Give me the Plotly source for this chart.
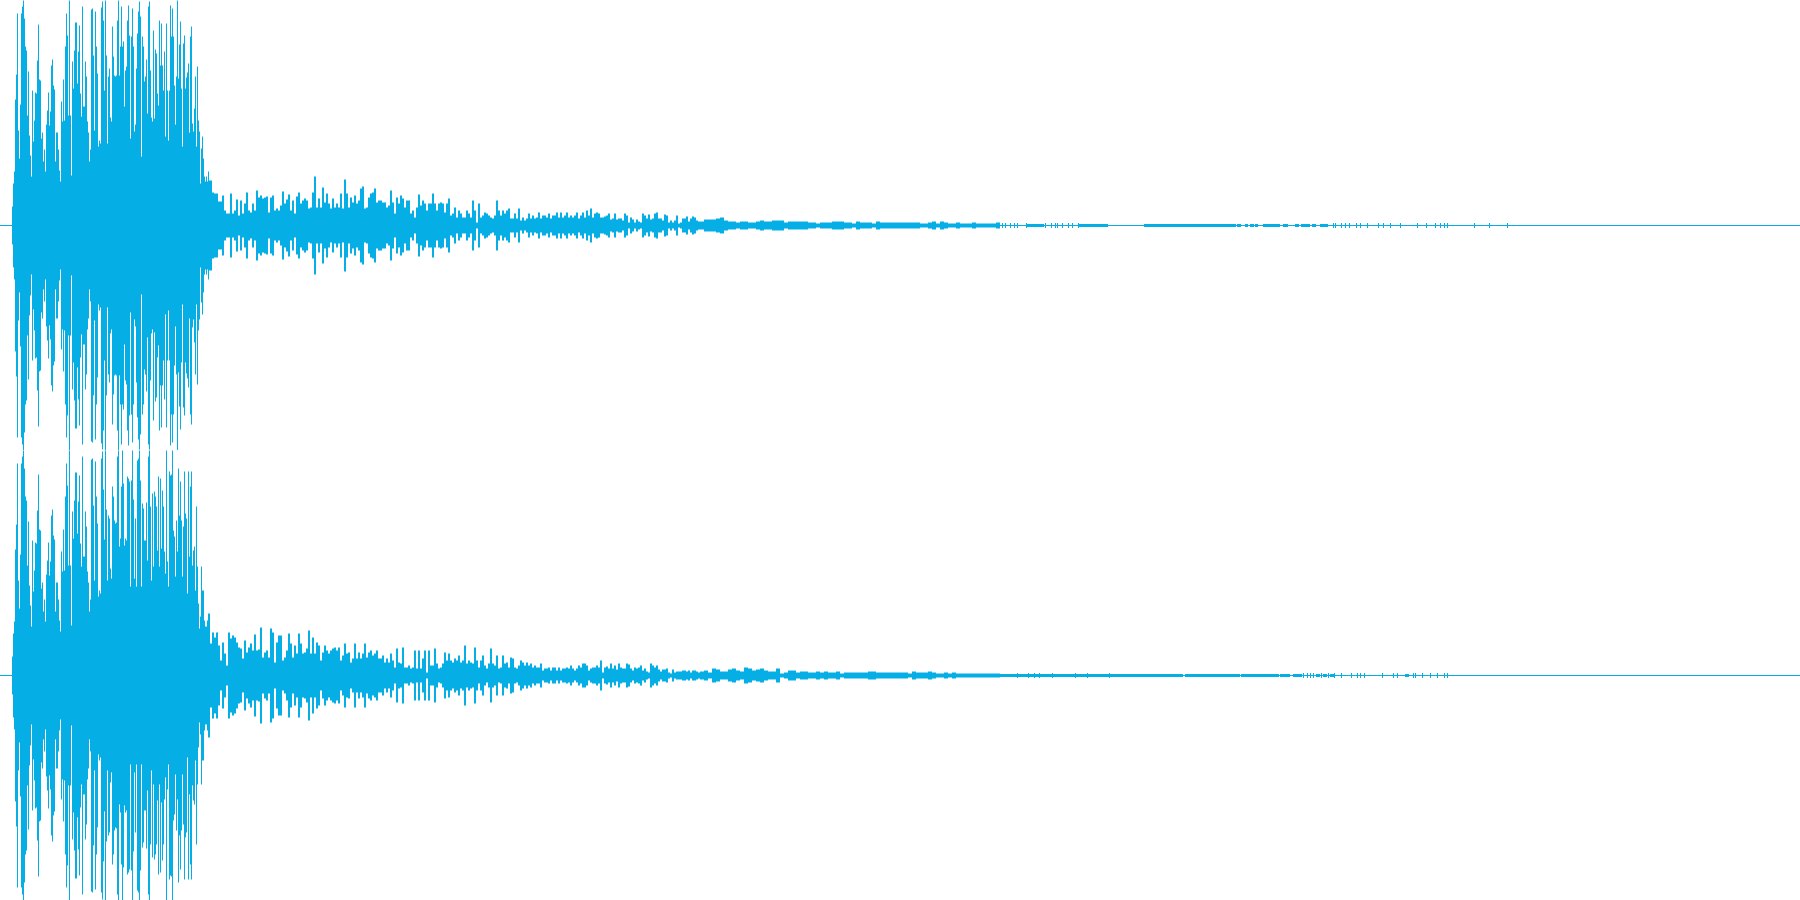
import plotly.graph_objects as go

WAVE = "#06AEE6"

# Amplitudes (full scale = 225). First columns are shared by both channels.
attack_cols_start = 12
attack = [19,42,54,126,151,212,95,67,121,212,219,225,207,179,175,110,154,90,70,49,135,84,105,133,132,165,201,146,145,87,93,64,76,54,101,115,133,100,114,160,166,140,136,64,93,93,76,55,44,124,104,146,105,179,212,190,110,225,110,50,164,137,175,203,203,142,174,200,132,109,219,119,119,164,149,104,93,64,76,216,217,170,95,214,179,152,79,85]

ch1_body = [82,218,224,205,135,225,170,82,149,157,108,104,199,169,150,149,150,205,225,150,179,219,179,184,119,155,159,205,220,190,87,189,217,179,94,101,157,192,214,224,209,69,189,179,144,149,166,112,219,224,155,108,104,195,107,176,172,132,120,205,160,202,160,135,174,89,202,135,85,135,220,189,217,189,140,101,149,225,147,181,204,137,79,182,190,137,148,153,162,93,189,199,102,94,117,149,79,159,105,94,42,77,89,67,49,44,49,44,54,45]

ch2_body = [82,217,224,186,136,225,166,95,160,157,107,97,189,179,155,152,153,219,225,129,137,189,225,192,130,137,135,199,197,194,89,195,225,176,97,157,89,215,217,225,195,89,172,167,135,135,173,115,219,225,169,95,182,109,184,179,169,125,199,109,197,127,185,169,124,102,225,114,89,204,200,201,225,145,139,99,155,124,207,160,194,155,99,149,204,162,157,82,204,119,189,204,110,125,129,85,169,109,72,47,59,109,85,85,55,49,49,55,62,62]

# Decay, one reading for every 2 columns from column 210
ch1_decay = [45,33,32,32,24,24,30,15,12,12,32,12,15,26,10,25,12,22,33,15,13,22,15,35,28,30,27,28,29,13,28,30,15,17,15,20,34,22,26,31,15,25,12,29,33,22,25,27,25,17,18,33,49,18,27,18,38,23,32,22,17,27,18,22,18,32,17,46,32,18,28,23,30,22,25,37,39,17,18,28,32,33,37,23,25,25,23,23,18,20,35,23,12,28,22,30,27,18,25,25,12,15,8,18,31,20,25,22,15,22,22,32,22,15,22,23,22,13,22,27,10,12,18,8,15,12,8,8,15,12,8,25,15,3,22,8,10,13,12,10,8,7,10,25,15,10,15,12,15,17,7,7,12,7,17,5,8,5,7,12,7,10,7,8,13,7,10,10,8,12,7,10,10,13,8,13,8,10,13,8,10,8,10,13,7,10,13,8,15,10,17,8,12,13,12]

ch2_decay = [32,43,38,43,30,15,33,22,10,43,37,40,38,33,28,27,17,35,23,28,32,25,41,25,26,48,18,23,25,18,47,43,13,33,40,40,15,18,25,42,32,18,30,22,42,32,22,23,27,45,22,38,22,33,30,15,23,30,25,22,25,27,28,25,28,15,20,32,22,23,13,17,32,17,23,17,22,32,18,23,25,20,22,25,17,17,20,13,17,13,22,15,8,27,13,12,28,8,8,10,7,8,25,7,25,7,17,25,3,25,10,10,27,12,7,8,12,23,15,22,15,13,17,15,20,13,15,30,12,15,13,12,28,15,8,15,20,10,7,12,27,12,10,20,7,8,20,12,13,8,18,17,8,7,10,15,13,10,13,10,12,8,10,8,8,12,5,7,7,8,5,8,8,5,8,5,7,7,8,7,10,7,5,7,10,8,12,12,10,5,7,8,8,10,8]

# Continued decay, one reading for every 2 columns from column 600
ch1_fade = [8,8,9,10,12,6,7,12,6,7,7,5,12,10,3,8,6,3,6,4,3,12,10,7,11,6,7,12,13,7,7,5,11,10,3,5,3,5,10,2,3,7,7,9,4,7,9,8,5,4]
ch2_fade = [15,3,8,9,7,12,7,10,6,12,8,7,7,12,11,7,5,8,7,8,10,5,7,4,3,12,10,8,10,6,4,6,6,7,3,2,6,3,4,4,4,5,5,4,5,3,5,5,4,3]

# Late decay, one reading for every 4 columns from column 700
ch1_late = [4,6,6,6,7,8,5,4,4,3,4,4,3,3,4,5,4,4,5,5,5,3,4,4,4,4,4,3,3,2,3,3,3,4,4,4,3,3,2,4,3,3,3,2,4,3,3,3,3,3,3,3,3,3,3,2,2,3,4,2,4,3,2,2,3,2,2,2,3,2,2,2,2,2,3]
ch2_late = [4,5,3,7,6,4,4,6,7,5,4,8,7,5,6,7,5,4,4,7,2,3,5,5,3,4,4,3,3,4,3,4,3,3,4,2,3,3,3,3,3,3,4,4,3,3,3,3,3,3,3,3,2,4,3,3,3,4,3,2,2,3,2,3,2,2,2,2,2,2,2,2,2,2,2]

# Tail: runs of slight thickness (first column, last column) and lone ticks
ch1_run_first = [1027,1079,1144,1150,1231,1237,1245,1250,1255,1263,1268,1283,1295,1301,1304,1312,1320]
ch1_run_last  = [1043,1107,1149,1230,1235,1240,1247,1253,1257,1267,1279,1287,1298,1303,1309,1315,1327]
ch1_ticks = [1002,1005,1010,1014,1017,1026,1045,1051,1055,1057,1062,1068,1072,1078,1333,1335,1341,1345,1349,1356,1360,1367,1378,1383,1390,1400,1417,1426,1435,1440,1444,1447,1474,1489,1507]
ch2_run_first = [1000,1136,1167,1177,1185,1201,1213,1241,1270,1273,1280,1283,1293,1316,1323,1330,1405]
ch2_run_last  = [1135,1166,1176,1182,1200,1212,1239,1269,1272,1278,1282,1289,1301,1319,1326,1333,1408]
ch2_ticks = [1017,1028,1034,1039,1052,1075,1087,1109,1303,1307,1310,1313,1321,1328,1334,1341,1351,1357,1360,1364,1382,1393,1397,1413,1415,1422,1430,1437,1444,1447]

run_amp = 1.5
tick_amp = 2.5
total_cols = 1800


def columns(start, step, amps):
    xs, ys = [], []
    for i, a in enumerate(amps):
        c = start + i * step + step / 2
        xs += [c, c, None]
        ys += [a, -a, None]
    return xs, ys


def add(fig, xs, ys, width, yaxis):
    fig.add_trace(go.Scatter(x=xs, y=ys, mode="lines", yaxis=yaxis, hoverinfo="skip", showlegend=False,
                             line=dict(color=WAVE, width=width, simplify=False)))


fig = go.Figure()
channels = [
    ("y", attack + ch1_body, ch1_decay, ch1_fade, ch1_late, ch1_run_first, ch1_run_last, ch1_ticks),
    ("y2", attack + ch2_body, ch2_decay, ch2_fade, ch2_late, ch2_run_first, ch2_run_last, ch2_ticks),
]
for yaxis, head, decay, fade, late, first, last, ticks in channels:
    add(fig, [0, total_cols], [0, 0], 1, yaxis)
    add(fig, *columns(attack_cols_start, 1, head), 1, yaxis)
    add(fig, *columns(attack_cols_start + len(head), 2, decay), 2, yaxis)
    add(fig, *columns(600, 2, fade), 2, yaxis)
    add(fig, *columns(700, 4, late), 4, yaxis)
    run_x, run_y = [], []
    for a, b in zip(first, last):
        rx, ry = columns(a, 1, [run_amp] * (b - a + 1))
        run_x += rx
        run_y += ry
    add(fig, run_x, run_y, 1, yaxis)
    tx, ty = [], []
    for t in ticks:
        rx, ry = columns(t, 1, [tick_amp])
        tx += rx
        ty += ry
    add(fig, tx, ty, 1, yaxis)

hidden = dict(visible=False, showgrid=False, zeroline=False, fixedrange=True)
fig.update_layout(
    width=1800, height=900, autosize=False,
    margin=dict(l=0, r=0, t=0, b=0, pad=0),
    paper_bgcolor="white", plot_bgcolor="white",
    xaxis=dict(range=[0, total_cols], **hidden),
    yaxis=dict(range=[-224.5, 225.5], domain=[0.5, 1], **hidden),
    yaxis2=dict(range=[-224.5, 225.5], domain=[0, 0.5], **hidden),
)
fig.write_html("out.html", config=dict(displayModeBar=False),
               post_script="document.body.style.margin='0';document.body.style.overflow='hidden';")
